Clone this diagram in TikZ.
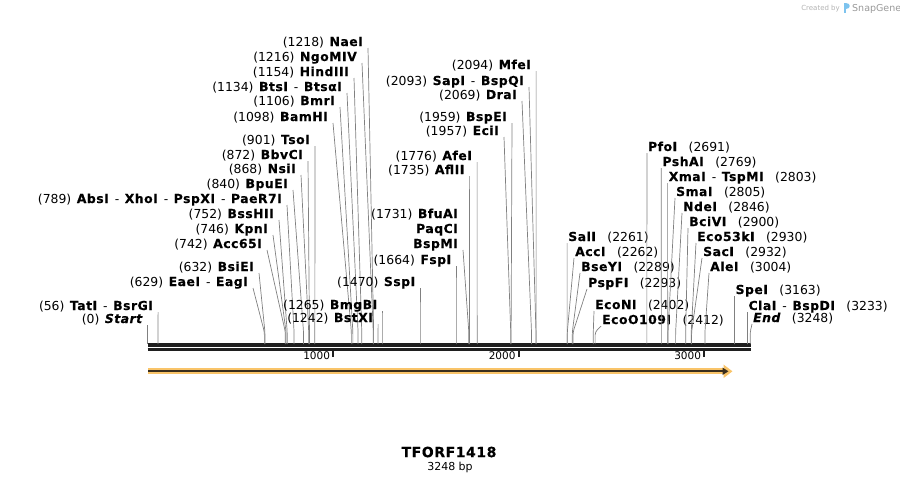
\documentclass[tikz,border=0pt]{standalone}
\usepackage{fontspec}
\setmainfont{DejaVu Sans}[BoldFeatures={LetterSpace=4,FakeBold=0.4},BoldItalicFeatures={LetterSpace=4,FakeBold=0.4}]
\usetikzlibrary{arrows.meta}
\definecolor{featorange}{RGB}{249,196,105}
\definecolor{featdark}{RGB}{58,46,28}
\definecolor{logoblue}{RGB}{125,195,238}

\begin{document}
\begin{tikzpicture}[x=1pt,y=-1pt,>=latex,
    siteline/.style={black!50, line width=0.7pt, rounded corners=3pt},
    leftlbl/.style={anchor=base east, inner sep=0pt, font=\fontsize{12.4}{15}\selectfont},
    rightlbl/.style={anchor=base west, inner sep=0pt, font=\fontsize{12.4}{15}\selectfont}]
        \def\xo{147.7}
        \def\bpw{0.1855}
        \def\lgap{\hspace{5.5pt}}
        \def\rgap{\hspace{11pt}}
        \def\cutsep{\hspace{5.5pt}-\hspace{5.5pt}}

        \useasboundingbox (0,0) rectangle (900,483);

        % sequence axis
        \coordinate (axL) at (\xo,345);
        \coordinate (axR) at (751,345);
        \coordinate (axL2) at (\xo,349.6);
        \coordinate (axR2) at (751,349.6);
        \draw[line width=3.2pt, black!88] (axL) -- (axR);
        \draw[line width=2.4pt, black!88] (axL2) -- (axR2);

        \foreach \k in {1000,2000,3000} {
            \coordinate (tick\k) at ({\xo+\bpw*\k},350.5);
            \coordinate (tickend\k) at ({\xo+\bpw*\k},357);
            \draw[line width=1.8pt, black!88] (tick\k) -- (tickend\k);
            \node[anchor=base east, inner sep=0pt, font=\fontsize{10.5}{12}\selectfont] (ticklbl\k) at ({\xo+\bpw*\k-3},359.5) {\k};
        }

        % feature arrow
        \coordinate (featS) at (148,371.3);
        \coordinate (featE) at (732.5,371.3);
        \coordinate (featE2) at (728.5,371.3);
        \draw[featorange, line width=6pt, -{Triangle[length=9pt,width=13pt]}] (featS) -- (featE);
        \draw[featdark, line width=1.8pt, -{Triangle[length=6pt,width=7pt]}] (featS) -- (featE2);

        % sites labelled on the left
        \foreach \bp/\tx/\ty/\txt in {
            0/147.7/325/{(0)\lgap\textbf{\textit{Start}}},
            56/158.1/312/{(56)\lgap\textbf{TatI}\cutsep\textbf{BsrGI}},
            629/253/288/{(629)\lgap\textbf{EaeI}\cutsep\textbf{EagI}},
            632/259/273/{(632)\lgap\textbf{BsiEI}},
            742/267/250/{(742)\lgap\textbf{Acc65I}},
            746/273/235/{(746)\lgap\textbf{KpnI}},
            752/279/220/{(752)\lgap\textbf{BssHII}},
            789/287/205/{(789)\lgap\textbf{AbsI}\cutsep\textbf{XhoI}\cutsep\textbf{PspXI}\cutsep\textbf{PaeR7I}},
            840/293/190/{(840)\lgap\textbf{BpuEI}},
            868/301/175/{(868)\lgap\textbf{NsiI}},
            872/308/161/{(872)\lgap\textbf{BbvCI}},
            901/315/146/{(901)\lgap\textbf{TsoI}},
            1098/333/123/{(1098)\lgap\textbf{BamHI}},
            1106/340/107/{(1106)\lgap\textbf{BmrI}},
            1134/347/93/{(1134)\lgap\textbf{BtsI}\cutsep\textbf{BtsαI}},
            1154/354/78/{(1154)\lgap\textbf{HindIII}},
            1216/362/63/{(1216)\lgap\textbf{NgoMIV}},
            1218/368/48/{(1218)\lgap\textbf{NaeI}},
            1242/378.1/324/{(1242)\lgap\textbf{BstXI}},
            1265/382.4/311/{(1265)\lgap\textbf{BmgBI}},
            1470/420.4/288/{(1470)\lgap\textbf{SspI}},
            1664/456.4/266/{(1664)\lgap\textbf{FspI}},
            1735/469.6/176/{(1735)\lgap\textbf{AflII}},
            1776/477.1/162/{(1776)\lgap\textbf{AfeI}},
            1957/504/137/{(1957)\lgap\textbf{EciI}},
            1959/512/123/{(1959)\lgap\textbf{BspEI}},
            2069/522/101/{(2069)\lgap\textbf{DraI}},
            2093/529/87/{(2093)\lgap\textbf{SapI}\cutsep\textbf{BspQI}},
            2094/536.1/71/{(2094)\lgap\textbf{MfeI}}} {
            \coordinate (top\bp) at (\tx,\ty);
            \coordinate (bend\bp) at ({\xo+\bpw*\bp},332);
            \coordinate (cut\bp) at ({\xo+\bpw*\bp},344);
            \draw[siteline] (top\bp) -- (bend\bp) -- (cut\bp);
            \node[leftlbl] (lbl\bp) at ([shift={(-4.5,-2)}]top\bp) {\txt};
        }

        % one site, three enzymes
        \coordinate (top1731) at (463,250);
        \coordinate (bend1731) at ({\xo+\bpw*1731},332);
        \coordinate (cut1731) at ({\xo+\bpw*1731},344);
        \draw[siteline] (top1731) -- (bend1731) -- (cut1731);
        \node[leftlbl] (lbl1731c) at ([shift={(-4.5,-2)}]top1731) {\textbf{BspMI}};
        \node[leftlbl] (lbl1731b) at ([shift={(-4.5,-17)}]top1731) {\textbf{PaqCI}};
        \node[leftlbl] (lbl1731a) at ([shift={(-4.5,-32)}]top1731) {(1731)\lgap\textbf{BfuAI}};

        % sites labelled on the right
        \foreach \bp/\tx/\ty/\txt in {
            2261/567.1/243/{\textbf{SalI}\rgap(2261)},
            2262/574/258/{\textbf{AccI}\rgap(2262)},
            2289/580/273/{\textbf{BseYI}\rgap(2289)},
            2293/587/289/{\textbf{PspFI}\rgap(2293)},
            2402/594/311/{\textbf{EcoNI}\rgap(2402)},
            2412/601/326/{\textbf{EcoO109I}\rgap(2412)},
            2691/646.9/153/{\textbf{PfoI}\rgap(2691)},
            2769/661.3/168/{\textbf{PshAI}\rgap(2769)},
            2803/667.6/183/{\textbf{XmaI}\cutsep\textbf{TspMI}\rgap(2803)},
            2805/675/198/{\textbf{SmaI}\rgap(2805)},
            2846/682/213/{\textbf{NdeI}\rgap(2846)},
            2900/688/228/{\textbf{BciVI}\rgap(2900)},
            2930/696/243/{\textbf{Eco53kI}\rgap(2930)},
            2932/702/258/{\textbf{SacI}\rgap(2932)},
            3004/709/273/{\textbf{AleI}\rgap(3004)},
            3163/734.4/296/{\textbf{SpeI}\rgap(3163)},
            3233/747.4/312/{\textbf{ClaI}\cutsep\textbf{BspDI}\rgap(3233)},
            3248/752/324/{\textbf{\textit{End}}\rgap(3248)}} {
            \coordinate (top\bp) at (\tx,\ty);
            \coordinate (bend\bp) at ({\xo+\bpw*\bp},332);
            \coordinate (cut\bp) at ({\xo+\bpw*\bp},344);
            \draw[siteline] (top\bp) -- (bend\bp) -- (cut\bp);
            \node[rightlbl] (lbl\bp) at ([shift={(1,-2)}]top\bp) {\txt};
        }

        % name and length
        \node[font=\bfseries\fontsize{14}{16}\selectfont] (title) at (449,452) {TFORF1418};
        \node[font=\fontsize{11}{13}\selectfont] (length) at (450,467) {3248 bp};

        % watermark
        \node[anchor=base east, inner sep=0pt, font=\fontsize{7}{8}\selectfont, text=black!30] (createdby) at (840,10) {Created by};
        \fill[logoblue] (843.5,3) rectangle (846,13);
        \fill[logoblue] (846,3) .. controls (851,3) and (851,9) .. (846,9) -- cycle;
        \node[anchor=base west, inner sep=0pt, font=\fontsize{9.5}{11}\selectfont, text=black!40] (snapgene) at (852,11) {SnapGene};
\end{tikzpicture}
\end{document}
